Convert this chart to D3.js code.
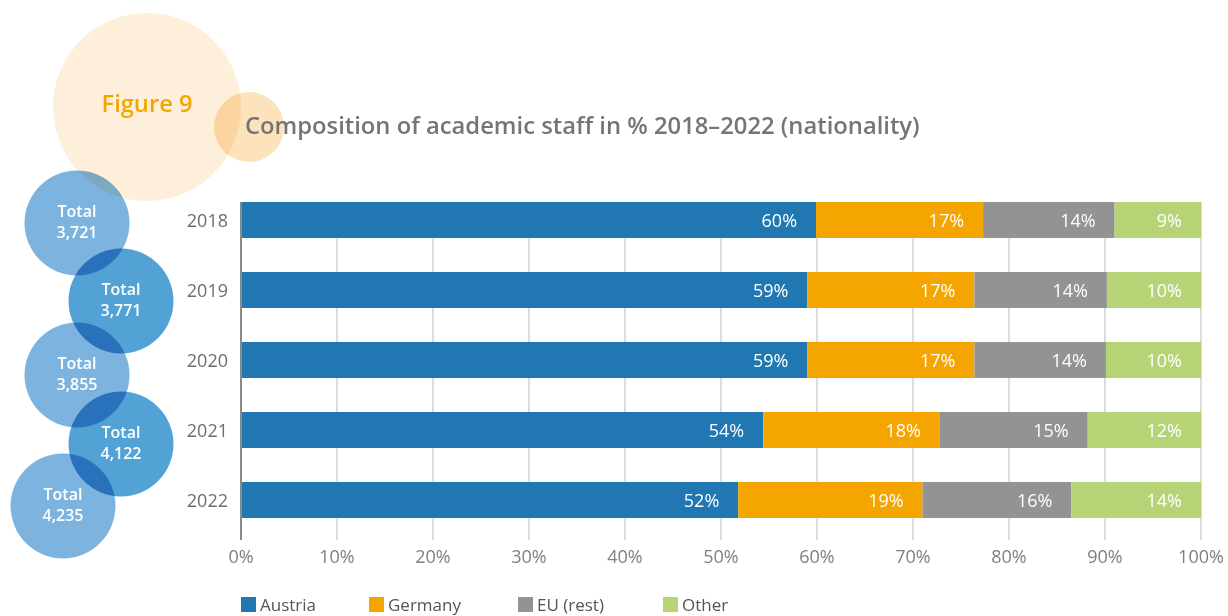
<!DOCTYPE html>
<html><head><meta charset="utf-8">
<script src="https://cdn.jsdelivr.net/npm/d3@7"></script>
<style>
body{margin:0;background:#fff;}
svg{display:block;font-family:"Open Sans","Noto Sans",sans-serif;}
.blend{mix-blend-mode:multiply;}
</style></head><body>
<svg id="chart" width="1228" height="616"></svg>
<script>
const years = ["2018","2019","2020","2021","2022"];
const seriesNames = ["Austria","Germany","EU (rest)","Other"];
const austria = [59.9, 59.0, 59.0, 54.4, 51.8];
const germany = [17.4, 17.4, 17.4, 18.4, 19.2];
const euRest  = [13.7, 13.8, 13.7, 15.4, 15.5];
const other   = [9.0, 9.8, 9.9, 11.8, 13.5];
const totals  = ["3,721","3,771","3,855","4,122","4,235"];
const xTicks  = [0,10,20,30,40,50,60,70,80,90,100];
const colors  = ["#2077b2","#f5a500","#939393","#b6d476"];

const svg = d3.select("#chart");
const x = d3.scaleLinear().domain([0,100]).range([241,1201]);
const y = d3.scaleBand().domain(years).range([185,535]).paddingInner(0.486).paddingOuter(0.243);

function fitWidth(sel, w){
  const n = sel.node(); let fs = +sel.attr("font-size");
  const cur = n.getComputedTextLength();
  if (cur > 0) sel.attr("font-size", (fs * w / cur).toFixed(2));
}

// decorative circles
const deco = svg.append("g");
deco.append("circle").attr("cx",147).attr("cy",107).attr("r",94).attr("fill","#feefdb").attr("class","blend");
deco.append("circle").attr("cx",249).attr("cy",127).attr("r",35).attr("fill","#fde3bb").attr("class","blend");
const fig = svg.append("text").attr("x",147).attr("y",112).attr("text-anchor","middle")
  .attr("fill","#f5a500").attr("font-weight",600).attr("font-size",21).text("Figure 9");
fitWidth(fig, 91);
const title = svg.append("text").attr("x",245).attr("y",134)
  .attr("fill","#757575").attr("font-weight",600).attr("font-size",22)
  .text("Composition of academic staff in % 2018\u20132022 (nationality)");
fitWidth(title, 675);

// total circles
const circlePos = [[77,223],[121,301],[77,375],[121,444],[63,506]];
const tg = svg.append("g");
totals.forEach((t,i)=>{
  tg.append("circle").attr("cx",circlePos[i][0]).attr("cy",circlePos[i][1]).attr("r",52.5)
    .attr("fill", i%2===0 ? "#7db4df" : "#52a2d6").attr("class","blend");
});
totals.forEach((t,i)=>{
  const [cx,cy]=circlePos[i];
  const tx = tg.append("text").attr("text-anchor","middle").attr("fill","#fff")
    .attr("font-weight",600).attr("font-size",16);
  tx.append("tspan").attr("x",cx).attr("y",cy-6).text("Total");
  tx.append("tspan").attr("x",cx).attr("y",cy+15).text(t);
});

// grid
const grid = svg.append("g");
xTicks.slice(1).forEach(v=>{
  grid.append("line").attr("x1",x(v)).attr("x2",x(v)).attr("y1",202).attr("y2",540)
    .attr("stroke","#dcdcdc").attr("stroke-width",2);
});

// bars
const data = years.map((yr,i)=>({year:yr, Austria:austria[i], Germany:germany[i], "EU (rest)":euRest[i], Other:other[i]}));
const stack = d3.stack().keys(seriesNames)(data);
const bars = svg.append("g");
stack.forEach((s,si)=>{
  const g = bars.append("g").attr("fill",colors[si]);
  g.selectAll("rect").data(s).join("rect")
    .attr("x",d=>x(d[0])).attr("width",d=>x(d[1])-x(d[0]))
    .attr("y",d=>y(d.data.year)).attr("height",y.bandwidth());
  bars.append("g").selectAll("text").data(s).join("text")
    .attr("x",d=>x(d[1])-19).attr("y",d=>y(d.data.year)+y.bandwidth()/2+6.5)
    .attr("text-anchor","end").attr("fill","#fff").attr("font-size",18).attr("font-weight",500)
    .text(d=>Math.round(d[1]-d[0])+"%");
});

// left axis line
svg.append("line").attr("x1",241).attr("x2",241).attr("y1",202).attr("y2",540)
  .attr("stroke","#8a8a8a").attr("stroke-width",2);

// year labels
svg.append("g").selectAll("text").data(years).join("text")
  .attr("x",228).attr("y",d=>y(d)+y.bandwidth()/2+7).attr("text-anchor","end")
  .attr("fill","#6e6e6e").attr("font-size",18).text(d=>d);

// x tick labels
svg.append("g").selectAll("text").data(xTicks).join("text")
  .attr("x",d=>x(d)).attr("y",563).attr("text-anchor","middle")
  .attr("fill","#808080").attr("font-size",18).text(d=>d+"%");

// legend
const legX = [241,369,518,663];
const lg = svg.append("g");
seriesNames.forEach((n,i)=>{
  lg.append("rect").attr("x",legX[i]).attr("y",597).attr("width",15).attr("height",15).attr("fill",colors[i]);
  lg.append("text").attr("x",legX[i]+19).attr("y",611).attr("fill","#555").attr("font-size",17).text(n);
});
</script></body></html>
